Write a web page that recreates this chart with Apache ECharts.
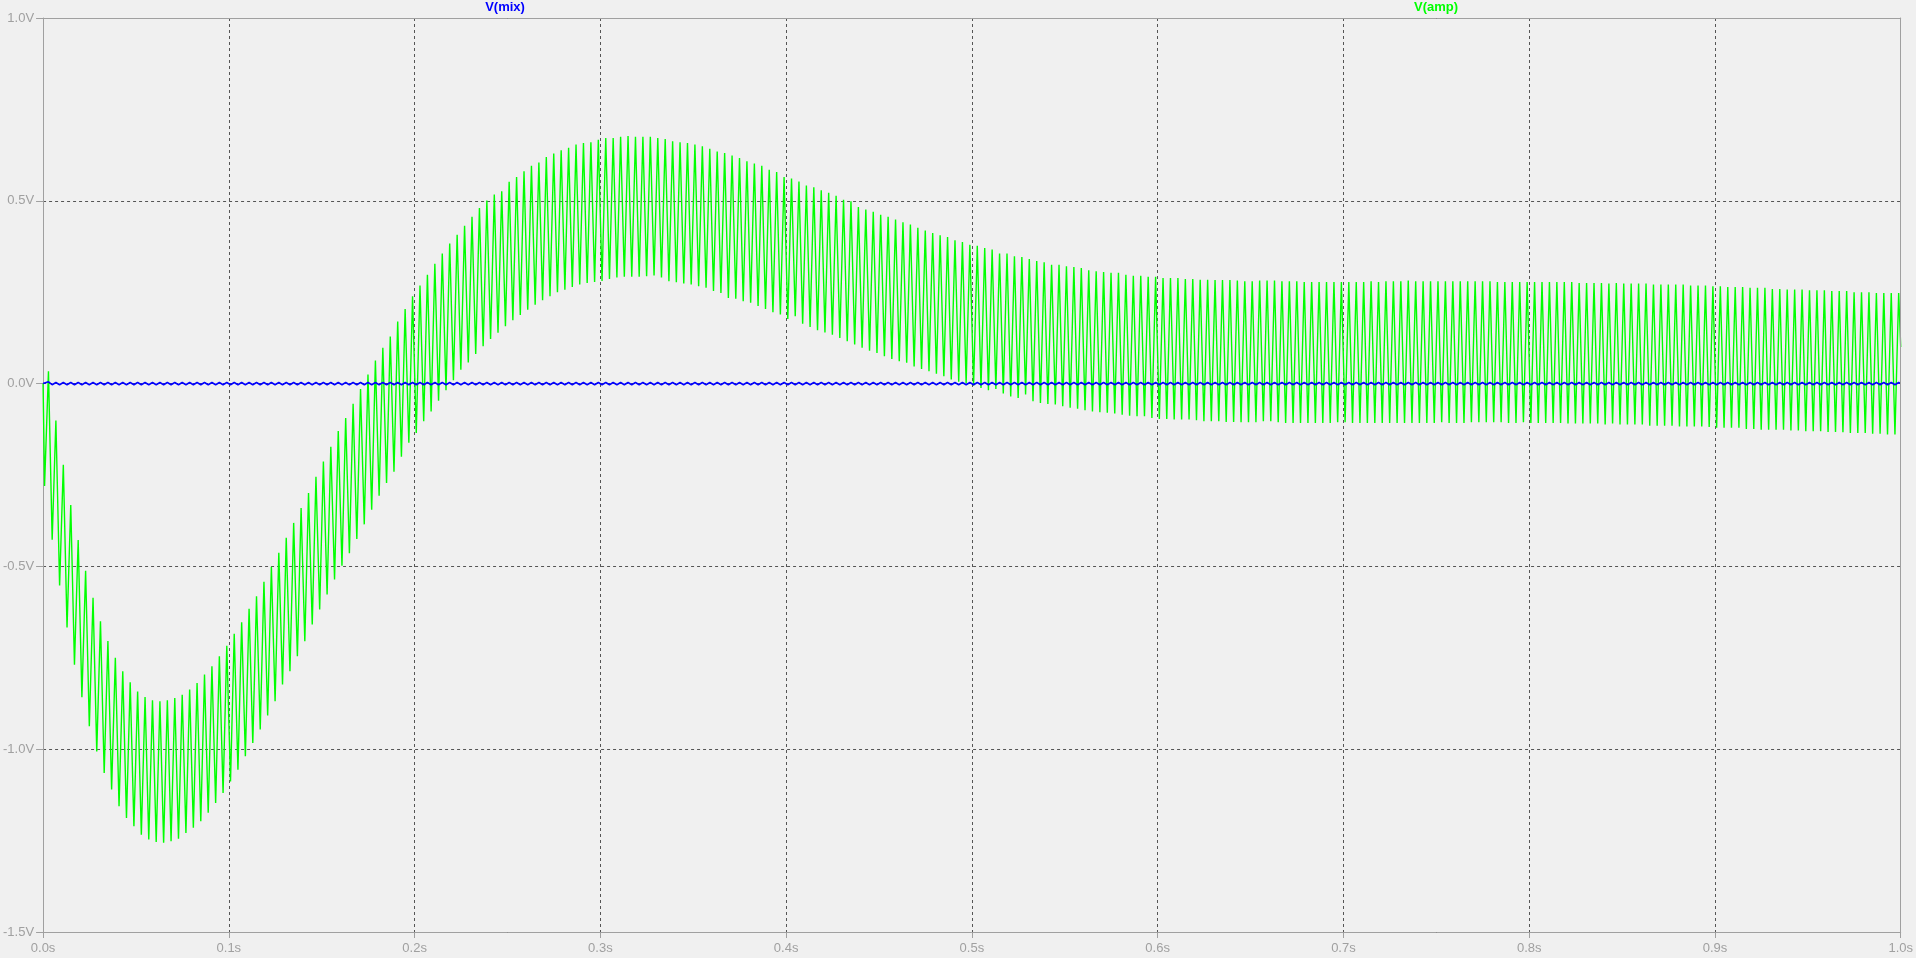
<!DOCTYPE html>
<html>
<head>
<meta charset="utf-8">
<script src="https://cdn.jsdelivr.net/npm/echarts@6/dist/echarts.min.js"></script>
<style>
html,body{margin:0;padding:0;background:#f0f0f0;}
#c{width:1916px;height:958px;}
</style>
</head>
<body>
<div id="c"></div>
<script>
// ---- Data ----
const xTicks = [0, 0.1, 0.2, 0.3, 0.4, 0.5, 0.6, 0.7, 0.8, 0.9, 1.0];
const yTicks = [-1.5, -1.0, -0.5, 0.0, 0.5, 1.0];
const seriesNames = ['V(mix)', 'V(amp)'];

// sampling of the ~250 Hz carrier: one peak and one trough per cycle
const period = 0.004;   // s
const ampT0 = 0.0029;   // time of first peak, s

// V(amp): leading points, per-cycle peaks, per-cycle troughs, trailing point
const ampLead = [[0.0, 0.0], [0.0008, -0.28]];
const ampMax = [
  0.034,-0.101,-0.222,-0.332,-0.428,-0.512,-0.586,-0.650,-0.704,-0.750,
 -0.787,-0.817,-0.842,-0.857,-0.866,-0.869,-0.866,-0.860,-0.851,-0.837,
 -0.819,-0.796,-0.773,-0.746,-0.717,-0.684,-0.653,-0.616,-0.582,-0.542,
 -0.501,-0.463,-0.422,-0.381,-0.340,-0.299,-0.255,-0.213,-0.173,-0.130,
 -0.094,-0.055,-0.015, 0.025, 0.063, 0.098, 0.129, 0.170, 0.204, 0.239,
  0.268, 0.298, 0.328, 0.356, 0.383, 0.407, 0.432, 0.456, 0.480, 0.501,
  0.517, 0.526, 0.552, 0.565, 0.581, 0.596, 0.605, 0.620, 0.629, 0.638,
  0.645, 0.654, 0.658, 0.660, 0.667, 0.672, 0.672, 0.675, 0.677, 0.675,
  0.675, 0.675, 0.672, 0.669, 0.663, 0.660, 0.658, 0.654, 0.649, 0.642,
  0.635, 0.631, 0.624, 0.617, 0.608, 0.602, 0.596, 0.585, 0.579, 0.565,
  0.561, 0.553, 0.542, 0.537, 0.529, 0.522, 0.514, 0.503, 0.499, 0.483,
  0.476, 0.470, 0.462, 0.456, 0.449, 0.441, 0.435, 0.426, 0.419, 0.412,
  0.406, 0.401, 0.392, 0.387, 0.380, 0.377, 0.371, 0.367, 0.356, 0.356,
  0.348, 0.346, 0.341, 0.335, 0.332, 0.325, 0.325, 0.321, 0.319, 0.316,
  0.310, 0.307, 0.305, 0.303, 0.303, 0.298, 0.295, 0.295, 0.292, 0.292,
  0.289, 0.289, 0.289, 0.286, 0.286, 0.284, 0.284, 0.283, 0.283, 0.283,
  0.282, 0.280, 0.280, 0.282, 0.282, 0.282, 0.280, 0.280, 0.280, 0.278,
  0.278, 0.278, 0.278, 0.278, 0.278, 0.278, 0.278, 0.278, 0.280, 0.278,
  0.280, 0.280, 0.280, 0.282, 0.280, 0.280, 0.280, 0.280, 0.280, 0.280,
  0.280, 0.280, 0.280, 0.280, 0.280, 0.278, 0.278, 0.278, 0.278, 0.278,
  0.278, 0.278, 0.278, 0.278, 0.278, 0.278, 0.275, 0.275, 0.275, 0.275,
  0.274, 0.275, 0.274, 0.274, 0.274, 0.274, 0.271, 0.271, 0.271, 0.271,
  0.271, 0.268, 0.268, 0.268, 0.266, 0.266, 0.264, 0.264, 0.264, 0.262,
  0.262, 0.262, 0.259, 0.259, 0.257, 0.257, 0.257, 0.255, 0.255, 0.255,
  0.253, 0.253, 0.253, 0.250, 0.250, 0.250, 0.248, 0.248, 0.248, 0.248
];
const ampMin = [
 -0.427,-0.552,-0.667,-0.769,-0.858,-0.937,-1.006,-1.065,-1.110,-1.156,
 -1.188,-1.211,-1.234,-1.247,-1.254,-1.256,-1.252,-1.245,-1.229,-1.215,
 -1.197,-1.174,-1.147,-1.120,-1.088,-1.056,-1.019,-0.983,-0.946,-0.908,
 -0.869,-0.823,-0.787,-0.746,-0.705,-0.659,-0.618,-0.577,-0.536,-0.498,
 -0.464,-0.425,-0.385,-0.345,-0.307,-0.272,-0.241,-0.200,-0.162,-0.135,
 -0.103,-0.076,-0.047,-0.018, 0.009, 0.038, 0.058, 0.081, 0.102, 0.122,
  0.139, 0.157, 0.173, 0.188, 0.202, 0.216, 0.228, 0.239, 0.250, 0.257,
  0.264, 0.271, 0.275, 0.278, 0.281, 0.286, 0.290, 0.292, 0.292, 0.292,
  0.294, 0.296, 0.290, 0.280, 0.277, 0.274, 0.271, 0.266, 0.262, 0.253,
  0.248, 0.234, 0.232, 0.225, 0.221, 0.212, 0.204, 0.195, 0.189, 0.177,
  0.184, 0.164, 0.155, 0.146, 0.140, 0.134, 0.125, 0.116, 0.107, 0.098,
  0.090, 0.084, 0.075, 0.067, 0.061, 0.057, 0.047, 0.040, 0.034, 0.027,
  0.020, 0.011, 0.005, 0.000,-0.005,-0.012,-0.018,-0.015,-0.027,-0.035,
 -0.039,-0.030,-0.048,-0.053,-0.056,-0.057,-0.062,-0.066,-0.069,-0.073,
 -0.076,-0.078,-0.080,-0.082,-0.085,-0.088,-0.089,-0.089,-0.094,-0.097,
 -0.097,-0.098,-0.098,-0.098,-0.100,-0.103,-0.103,-0.103,-0.105,-0.105,
 -0.106,-0.106,-0.106,-0.103,-0.103,-0.106,-0.108,-0.108,-0.108,-0.108,
 -0.108,-0.108,-0.108,-0.106,-0.106,-0.108,-0.108,-0.108,-0.108,-0.108,
 -0.108,-0.108,-0.108,-0.108,-0.108,-0.108,-0.108,-0.106,-0.108,-0.108,
 -0.108,-0.106,-0.106,-0.106,-0.106,-0.106,-0.108,-0.108,-0.106,-0.108,
 -0.108,-0.108,-0.108,-0.108,-0.109,-0.109,-0.109,-0.109,-0.109,-0.112,
 -0.109,-0.112,-0.112,-0.112,-0.112,-0.115,-0.115,-0.115,-0.115,-0.117,
 -0.117,-0.117,-0.117,-0.119,-0.121,-0.121,-0.121,-0.121,-0.124,-0.124,
 -0.126,-0.126,-0.126,-0.126,-0.128,-0.128,-0.130,-0.130,-0.130,-0.132,
 -0.132,-0.133,-0.135,-0.135,-0.135,-0.137,-0.137,-0.139,-0.139
];
const ampTail = [1.0, 0.10];

// V(mix): tiny ripple around 0 V at the same rate
const mixLead = [[0.0, 0.0]];
const mixHi = [
 0.005,0.003,0.003,0.003,0.003,0.003,0.003,0.003,0.003,0.003,0.003,0.003,0.003,0.003,0.003,0.003,0.003,0.003,0.003,0.003,0.003,0.003,0.003,0.003,0.003,
 0.003,0.003,0.003,0.003,0.003,0.003,0.003,0.003,0.003,0.003,0.003,0.003,0.003,0.003,0.003,0.003,0.003,0.003,0.003,0.003,0.003,0.003,0.003,0.003,0.003,
 0.003,0.003,0.003,0.003,0.003,0.003,0.003,0.003,0.003,0.003,0.003,0.003,0.003,0.003,0.003,0.003,0.003,0.003,0.003,0.003,0.003,0.003,0.003,0.003,0.003,
 0.003,0.003,0.003,0.003,0.003,0.003,0.003,0.003,0.003,0.003,0.003,0.003,0.003,0.003,0.003,0.003,0.003,0.003,0.003,0.003,0.003,0.003,0.003,0.003,0.003,
 0.003,0.003,0.003,0.003,0.003,0.003,0.003,0.003,0.003,0.003,0.003,0.003,0.003,0.003,0.003,0.003,0.003,0.003,0.003,0.003,0.003,0.003,0.003,0.003,0.003,
 0.003,0.003,0.003,0.003,0.003,0.003,0.003,0.003,0.003,0.003,0.003,0.003,0.003,0.003,0.003,0.003,0.003,0.003,0.003,0.003,0.003,0.003,0.003,0.003,0.003,
 0.003,0.003,0.003,0.003,0.003,0.003,0.003,0.003,0.003,0.003,0.003,0.003,0.003,0.003,0.003,0.003,0.003,0.003,0.003,0.003,0.003,0.003,0.003,0.003,0.003,
 0.003,0.003,0.003,0.003,0.003,0.003,0.003,0.003,0.003,0.003,0.003,0.003,0.003,0.003,0.003,0.003,0.003,0.003,0.003,0.003,0.003,0.003,0.003,0.003,0.003,
 0.003,0.003,0.003,0.003,0.003,0.003,0.003,0.003,0.003,0.003,0.003,0.003,0.003,0.003,0.003,0.003,0.003,0.003,0.003,0.003,0.003,0.003,0.003,0.003,0.003,
 0.003,0.003,0.003,0.003,0.003,0.003,0.003,0.003,0.003,0.003,0.003,0.003,0.003,0.003,0.003,0.003,0.003,0.003,0.003,0.003,0.003,0.003,0.003,0.003,0.003
];
const mixLo = [
 -0.003,-0.003,-0.003,-0.003,-0.003,-0.003,-0.003,-0.003,-0.003,-0.003,-0.003,-0.003,-0.003,-0.003,-0.003,-0.003,-0.003,-0.003,-0.003,-0.003,-0.003,-0.003,-0.003,-0.003,-0.003,
 -0.003,-0.003,-0.003,-0.003,-0.003,-0.003,-0.003,-0.003,-0.003,-0.003,-0.003,-0.003,-0.003,-0.003,-0.003,-0.003,-0.003,-0.003,-0.003,-0.003,-0.003,-0.003,-0.003,-0.003,-0.003,
 -0.003,-0.003,-0.003,-0.003,-0.003,-0.003,-0.003,-0.003,-0.003,-0.003,-0.003,-0.003,-0.003,-0.003,-0.003,-0.003,-0.003,-0.003,-0.003,-0.003,-0.003,-0.003,-0.003,-0.003,-0.003,
 -0.003,-0.003,-0.003,-0.003,-0.003,-0.003,-0.003,-0.003,-0.003,-0.003,-0.003,-0.003,-0.003,-0.003,-0.003,-0.003,-0.003,-0.003,-0.003,-0.003,-0.003,-0.003,-0.003,-0.003,-0.003,
 -0.003,-0.003,-0.003,-0.003,-0.003,-0.003,-0.003,-0.003,-0.003,-0.003,-0.003,-0.003,-0.003,-0.003,-0.003,-0.003,-0.003,-0.003,-0.003,-0.003,-0.003,-0.003,-0.003,-0.003,-0.003,
 -0.003,-0.003,-0.003,-0.003,-0.003,-0.003,-0.003,-0.003,-0.003,-0.003,-0.003,-0.003,-0.003,-0.003,-0.003,-0.003,-0.003,-0.003,-0.003,-0.003,-0.003,-0.003,-0.003,-0.003,-0.003,
 -0.003,-0.003,-0.003,-0.003,-0.003,-0.003,-0.003,-0.003,-0.003,-0.003,-0.003,-0.003,-0.003,-0.003,-0.003,-0.003,-0.003,-0.003,-0.003,-0.003,-0.003,-0.003,-0.003,-0.003,-0.003,
 -0.003,-0.003,-0.003,-0.003,-0.003,-0.003,-0.003,-0.003,-0.003,-0.003,-0.003,-0.003,-0.003,-0.003,-0.003,-0.003,-0.003,-0.003,-0.003,-0.003,-0.003,-0.003,-0.003,-0.003,-0.003,
 -0.003,-0.003,-0.003,-0.003,-0.003,-0.003,-0.003,-0.003,-0.003,-0.003,-0.003,-0.003,-0.003,-0.003,-0.003,-0.003,-0.003,-0.003,-0.003,-0.003,-0.003,-0.003,-0.003,-0.003,-0.003,
 -0.003,-0.003,-0.003,-0.003,-0.003,-0.003,-0.003,-0.003,-0.003,-0.003,-0.003,-0.003,-0.003,-0.003,-0.003,-0.003,-0.003,-0.003,-0.003,-0.003,-0.003,-0.003,-0.003,-0.003
];
const mixTail = [1.0, 0.0];

// ---- Build series data (times on the carrier's sampling grid) ----
function buildWave(lead, hi, lo, tail) {
  const out = lead.slice();
  for (let k = 0; k < hi.length; k++) {
    const t = ampT0 + k * period;
    out.push([t, hi[k]]);
    if (k < lo.length) out.push([t + period / 2, lo[k]]);
  }
  out.push(tail);
  return out;
}
const ampData = buildWave(ampLead, ampMax, ampMin, ampTail);
const mixData = buildWave(mixLead, mixHi, mixLo, mixTail);

const GRID = {left: 40, right: 13, top: 18, bottom: 26};
const axisGray = '#a0a0a0';
const gridDark = '#555555';
const font = 'Liberation Sans';

const chart = echarts.init(document.getElementById('c'), null, {renderer: 'canvas'});
chart.setOption({
  backgroundColor: '#f0f0f0',
  animation: false,
  grid: GRID,
  graphic: [
    {type: 'text', x: 505, y: 1, style: {text: seriesNames[0], fill: '#0000ff', textAlign: 'center', font: 'bold 13px "' + font + '"'}},
    {type: 'text', x: 1436, y: 1, style: {text: seriesNames[1], fill: '#00ff00', textAlign: 'center', font: 'bold 13px "' + font + '"'}}
  ],
  xAxis: [{
    type: 'value', min: xTicks[0], max: xTicks[xTicks.length - 1], interval: 0.1,
    axisLine: {show: true, onZero: false, lineStyle: {color: axisGray, width: 1}},
    axisTick: {show: true, inside: false, length: 6, lineStyle: {color: axisGray}},
    axisLabel: {color: axisGray, fontFamily: font, fontSize: 13, margin: 10,
      formatter: v => v.toFixed(1) + 's'},
    splitLine: {show: true, lineStyle: {color: gridDark, type: [3, 3], width: 1}}
  }, {
    type: 'value', position: 'top', min: 0, max: 1, z: 10,
    axisLine: {show: true, onZero: false, lineStyle: {color: axisGray, width: 1}},
    axisTick: {show: false}, axisLabel: {show: false}, splitLine: {show: false}
  }],
  yAxis: [{
    type: 'value', min: yTicks[0], max: yTicks[yTicks.length - 1], interval: 0.5,
    axisLine: {show: true, onZero: false, lineStyle: {color: axisGray, width: 1}},
    axisTick: {show: true, inside: false, length: 7, lineStyle: {color: axisGray}},
    axisLabel: {color: axisGray, fontFamily: font, fontSize: 13, margin: 9,
      formatter: v => v.toFixed(1) + 'V'},
    splitLine: {show: true, lineStyle: {color: gridDark, type: [3, 3], width: 1}}
  }, {
    type: 'value', position: 'right', min: -1.5, max: 1.0, z: 10,
    axisLine: {show: true, onZero: false, lineStyle: {color: axisGray, width: 1}},
    axisTick: {show: false}, axisLabel: {show: false}, splitLine: {show: false}
  }],
  series: [{
    name: seriesNames[1], type: 'line', data: ampData, xAxisIndex: 0, yAxisIndex: 0,
    showSymbol: false, symbol: 'none', sampling: false, z: 3,
    lineStyle: {color: '#00ff00', width: 1.4}
  }, {
    name: seriesNames[0], type: 'line', data: mixData, xAxisIndex: 0, yAxisIndex: 0,
    showSymbol: false, symbol: 'none', sampling: false, z: 4,
    lineStyle: {color: '#0000ff', width: 1.6}
  }]
});
</script>
</body>
</html>
